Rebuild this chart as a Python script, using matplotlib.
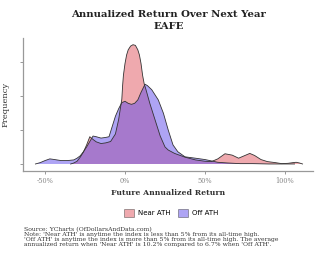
import matplotlib
matplotlib.use("Agg")
import matplotlib.pyplot as plt
from matplotlib.patches import Patch

# density curves (x in %, y in arbitrary density units)
near_x = [-34, -32, -30, -28, -26, -24, -22, -20, -18, -15, -12, -9, -6, -4, -2, -1.5, -1, 0,
          1, 2, 3.5, 5, 6.5, 8, 9, 10, 11, 12, 13, 15.5, 18.75, 22, 25, 27, 31, 37.5, 44,
          50, 54, 58, 62.5, 67, 71, 74.5, 78, 81, 85, 89, 94, 98, 102, 105, 107, 109, 111]
near_y = [0, 0.03, 0.08, 0.2, 0.35, 0.56, 0.8, 0.72, 0.65, 0.6, 0.62, 0.66, 0.88, 1.3, 1.9, 2.3, 2.6, 2.95,
          3.2, 3.35, 3.46, 3.5, 3.48, 3.35, 3.2, 2.95, 2.6, 2.35, 2.2, 1.78, 1.3, 0.82, 0.5, 0.41, 0.31, 0.2, 0.12,
          0.08, 0.07, 0.15, 0.3, 0.26, 0.17, 0.24, 0.31, 0.25, 0.13, 0.07, 0.04, 0.01, 0.02, 0.04, 0.05, 0.03, 0]

off_x = [-56, -53, -50, -47, -44, -40, -36, -32, -30, -28, -26, -24, -22, -20, -18, -15,
         -12, -10, -8, -6, -4, -2, 0, 2, 4, 6, 8, 10, 12.5, 14, 16.7, 20.8, 24, 27, 30,
         33, 37.5, 44, 50, 54, 58, 64, 72, 80, 90, 100, 106]
off_y = [0, 0.04, 0.1, 0.15, 0.13, 0.1, 0.1, 0.12, 0.17, 0.24, 0.36, 0.5, 0.66, 0.82, 0.8, 0.76,
         0.78, 0.8, 1.1, 1.4, 1.62, 1.8, 1.84, 1.78, 1.75, 1.78, 1.88, 2.1, 2.34, 2.3, 2.18, 1.88, 1.49, 1.0, 0.56,
         0.36, 0.21, 0.17, 0.13, 0.09, 0.05, 0.03, 0.01, 0.01, 0, 0, 0]

xticks = [-50, 0, 50, 100]
xtick_labels = ["-50%", "0%", "50%", "100%"]

near_color = "#e1555f"
off_color = "#5f4beb"

fig = plt.figure(figsize=(3.2, 2.56), dpi=100)
ax = fig.add_axes([0.072, 0.332, 0.906, 0.52])

ax.fill_between(near_x, near_y, 0, facecolor=near_color, alpha=0.5, edgecolor="none")
ax.fill_between(off_x, off_y, 0, facecolor=off_color, alpha=0.5, edgecolor="none")
ax.plot(near_x, near_y, color="#333333", lw=0.6)
ax.plot(off_x, off_y, color="#333333", lw=0.6)

ax.set_xlim(-63.75, 117.5)
ax.set_ylim(-0.206, 3.7)
ax.set_xticks(xticks)
ax.set_xticklabels(xtick_labels, fontsize=4.8, family="DejaVu Serif", color="#555555")
ax.set_yticks([0, 1, 2, 3])
ax.set_yticklabels([])
ax.tick_params(colors="#888888", length=2.5, width=0.6, pad=2)
for s in ["top", "right"]:
    ax.spines[s].set_visible(False)
for s in ["left", "bottom"]:
    ax.spines[s].set_color("#999999")
    ax.spines[s].set_linewidth(0.9)

ax.set_xlabel("Future Annualized Return", fontsize=5.6, family="DejaVu Serif",
              fontweight="bold", color="#333333", labelpad=3)
ax.set_ylabel("Frequency", fontsize=6.0, family="DejaVu Serif", color="#333333", labelpad=5)

fig.text(0.527, 0.945, "Annualized Return Over Next Year", ha="center", va="center",
         fontsize=7.3, family="DejaVu Serif", fontweight="bold", color="#222222")
fig.text(0.527, 0.898, "EAFE", ha="center", va="center",
         fontsize=7.3, family="DejaVu Serif", fontweight="bold", color="#222222")

handles = [Patch(facecolor=near_color, alpha=0.5, edgecolor="#333333", lw=0.6, label="Near ATH"),
           Patch(facecolor=off_color, alpha=0.5, edgecolor="#333333", lw=0.6, label="Off ATH")]
fig.legend(handles=handles, loc="center", bbox_to_anchor=(0.535, 0.169), ncol=2,
           frameon=False, prop={"family": "DejaVu Sans", "size": 5},
           handlelength=1.4, handleheight=1.4, columnspacing=1.2, handletextpad=0.5)

notes = ("Source: YCharts (OfDollarsAndData.com)\n"
         "Note: 'Near ATH' is anytime the index is less than 5% from its all-time high.\n"
         "'Off ATH' is anytime the index is more than 5% from its all-time high. The average\n"
         "annualized return when 'Near ATH' is 10.2% compared to 6.7% when 'Off ATH'.")
fig.text(0.075, 0.115, notes, ha="left", va="top", fontsize=4.4, family="DejaVu Serif",
         color="#333333", linespacing=1.05)

fig.savefig("out.png", dpi=100, facecolor="white")
